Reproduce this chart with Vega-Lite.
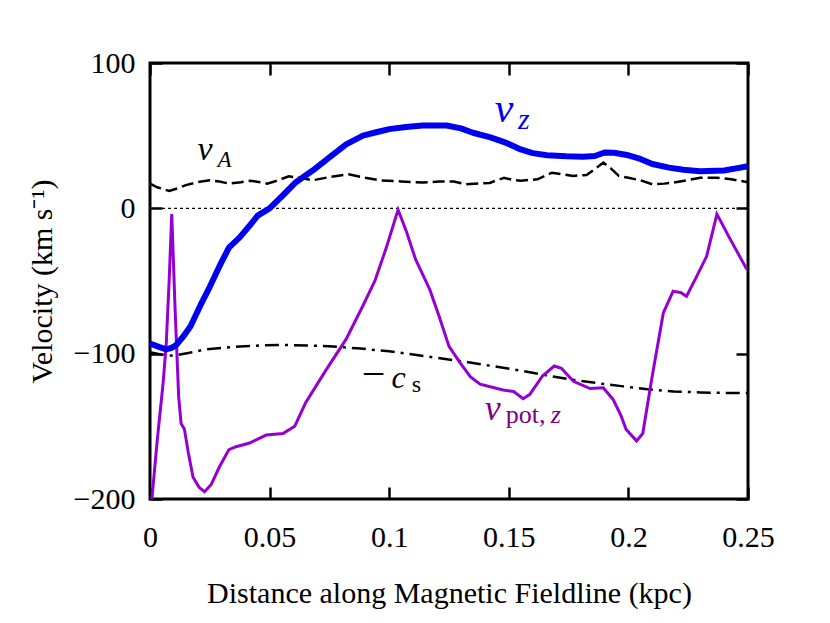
{
  "$schema": "https://vega.github.io/schema/vega-lite/v6.json",
  "width": 598,
  "height": 436,
  "autosize": {"type": "none"},
  "padding": {"left": 150, "top": 63, "right": 82, "bottom": 124},
  "background": "white",
  "config": {
    "view": {"stroke": "black", "strokeWidth": 3},
    "axis": {
      "labelFont": "Liberation Serif",
      "labelFontSize": 30,
      "titleFont": "Liberation Serif",
      "titleFontSize": 30,
      "titleFontWeight": "normal",
      "labelColor": "black",
      "titleColor": "black",
      "tickColor": "black",
      "tickWidth": 2.5,
      "tickSize": -12,
      "domain": false,
      "grid": false,
      "labelFlush": false
    }
  },
  "datasets": {
    "vz": [
      {"x": 0, "y": -93}, {"x": 0.004, "y": -95.5}, {"x": 0.0068, "y": -97}, {"x": 0.009, "y": -96},
      {"x": 0.011, "y": -94}, {"x": 0.014, "y": -88}, {"x": 0.017, "y": -81}, {"x": 0.021, "y": -67},
      {"x": 0.025, "y": -54}, {"x": 0.029, "y": -40}, {"x": 0.033, "y": -27}, {"x": 0.0375, "y": -20},
      {"x": 0.0416, "y": -12}, {"x": 0.045, "y": -5}, {"x": 0.05, "y": 0}, {"x": 0.0556, "y": 9},
      {"x": 0.061, "y": 18}, {"x": 0.068, "y": 26}, {"x": 0.075, "y": 35}, {"x": 0.082, "y": 44},
      {"x": 0.089, "y": 50}, {"x": 0.095, "y": 52.5}, {"x": 0.1, "y": 54.5}, {"x": 0.107, "y": 56},
      {"x": 0.114, "y": 57}, {"x": 0.124, "y": 57}, {"x": 0.13, "y": 55}, {"x": 0.135, "y": 52},
      {"x": 0.142, "y": 49}, {"x": 0.149, "y": 45}, {"x": 0.155, "y": 40.5}, {"x": 0.16, "y": 38},
      {"x": 0.166, "y": 36.5}, {"x": 0.174, "y": 35.8}, {"x": 0.181, "y": 35.5}, {"x": 0.186, "y": 36},
      {"x": 0.19, "y": 38.4}, {"x": 0.194, "y": 38.2}, {"x": 0.2, "y": 36.5}, {"x": 0.205, "y": 34},
      {"x": 0.21, "y": 30.5}, {"x": 0.217, "y": 28}, {"x": 0.223, "y": 26.5}, {"x": 0.23, "y": 25.5},
      {"x": 0.24, "y": 26}, {"x": 0.245, "y": 27.5}, {"x": 0.25, "y": 29}
    ],
    "va": [
      {"x": 0, "y": 17}, {"x": 0.003, "y": 14.5}, {"x": 0.008, "y": 12}, {"x": 0.012, "y": 14},
      {"x": 0.015, "y": 16}, {"x": 0.02, "y": 18}, {"x": 0.025, "y": 19.3}, {"x": 0.029, "y": 18.5},
      {"x": 0.033, "y": 17}, {"x": 0.038, "y": 18}, {"x": 0.042, "y": 19}, {"x": 0.046, "y": 18},
      {"x": 0.049, "y": 17}, {"x": 0.053, "y": 19}, {"x": 0.058, "y": 22}, {"x": 0.063, "y": 21},
      {"x": 0.068, "y": 19.3}, {"x": 0.075, "y": 21.5}, {"x": 0.083, "y": 23.4}, {"x": 0.09, "y": 21},
      {"x": 0.096, "y": 19.3}, {"x": 0.105, "y": 18.5}, {"x": 0.114, "y": 17.7}, {"x": 0.121, "y": 18.5},
      {"x": 0.127, "y": 18.5}, {"x": 0.132, "y": 16.5}, {"x": 0.142, "y": 17.5}, {"x": 0.148, "y": 21},
      {"x": 0.152, "y": 19.5}, {"x": 0.155, "y": 19}, {"x": 0.162, "y": 20}, {"x": 0.168, "y": 24.5},
      {"x": 0.172, "y": 23.5}, {"x": 0.177, "y": 22.3}, {"x": 0.1825, "y": 23}, {"x": 0.186, "y": 27},
      {"x": 0.1895, "y": 31.5}, {"x": 0.193, "y": 27}, {"x": 0.196, "y": 22.3}, {"x": 0.2, "y": 21},
      {"x": 0.205, "y": 19.3}, {"x": 0.21, "y": 16.5}, {"x": 0.215, "y": 17}, {"x": 0.219, "y": 17.7},
      {"x": 0.225, "y": 19.5}, {"x": 0.23, "y": 21}, {"x": 0.237, "y": 21}, {"x": 0.243, "y": 20},
      {"x": 0.25, "y": 18}
    ],
    "cs": [
      {"x": 0, "y": -99}, {"x": 0.0045, "y": -100.5}, {"x": 0.0095, "y": -101.4}, {"x": 0.016, "y": -99.5},
      {"x": 0.0235, "y": -97}, {"x": 0.03, "y": -96}, {"x": 0.0375, "y": -95}, {"x": 0.047, "y": -94.3},
      {"x": 0.0555, "y": -94}, {"x": 0.066, "y": -94.3}, {"x": 0.0765, "y": -95}, {"x": 0.088, "y": -96.5},
      {"x": 0.1, "y": -98.4}, {"x": 0.11, "y": -100.5}, {"x": 0.118, "y": -102.5}, {"x": 0.127, "y": -104.5},
      {"x": 0.135, "y": -106.4}, {"x": 0.145, "y": -109}, {"x": 0.156, "y": -112}, {"x": 0.166, "y": -115},
      {"x": 0.177, "y": -118}, {"x": 0.188, "y": -120.5}, {"x": 0.198, "y": -122.5}, {"x": 0.208, "y": -124.5},
      {"x": 0.219, "y": -126}, {"x": 0.23, "y": -126.7}, {"x": 0.24, "y": -127}, {"x": 0.25, "y": -127}
    ],
    "vpot": [
      {"x": 0.0008, "y": -200}, {"x": 0.003, "y": -160}, {"x": 0.0055, "y": -120}, {"x": 0.0068, "y": -93},
      {"x": 0.008, "y": -50}, {"x": 0.0091, "y": -4}, {"x": 0.0105, "y": -70}, {"x": 0.012, "y": -130},
      {"x": 0.013, "y": -148}, {"x": 0.0144, "y": -152}, {"x": 0.016, "y": -168}, {"x": 0.018, "y": -185},
      {"x": 0.0205, "y": -192}, {"x": 0.0228, "y": -195}, {"x": 0.0256, "y": -190}, {"x": 0.029, "y": -178},
      {"x": 0.033, "y": -166}, {"x": 0.036, "y": -164}, {"x": 0.0416, "y": -161.5}, {"x": 0.0486, "y": -156},
      {"x": 0.0556, "y": -155}, {"x": 0.0605, "y": -150}, {"x": 0.065, "y": -134}, {"x": 0.0737, "y": -111},
      {"x": 0.082, "y": -90}, {"x": 0.089, "y": -67}, {"x": 0.094, "y": -50}, {"x": 0.0988, "y": -27},
      {"x": 0.1037, "y": -1}, {"x": 0.107, "y": -15}, {"x": 0.111, "y": -35}, {"x": 0.117, "y": -56},
      {"x": 0.121, "y": -75}, {"x": 0.125, "y": -95}, {"x": 0.1295, "y": -106}, {"x": 0.134, "y": -116},
      {"x": 0.138, "y": -121}, {"x": 0.1476, "y": -125}, {"x": 0.152, "y": -126}, {"x": 0.156, "y": -131},
      {"x": 0.1588, "y": -128}, {"x": 0.164, "y": -115.5}, {"x": 0.169, "y": -108.5}, {"x": 0.172, "y": -110},
      {"x": 0.177, "y": -119}, {"x": 0.184, "y": -124}, {"x": 0.1895, "y": -123.5}, {"x": 0.1936, "y": -131.5},
      {"x": 0.197, "y": -143}, {"x": 0.199, "y": -152}, {"x": 0.2034, "y": -160}, {"x": 0.206, "y": -155},
      {"x": 0.21, "y": -115}, {"x": 0.2146, "y": -72}, {"x": 0.2187, "y": -57}, {"x": 0.222, "y": -58},
      {"x": 0.2243, "y": -60.5}, {"x": 0.2285, "y": -47}, {"x": 0.2327, "y": -33}, {"x": 0.237, "y": -4},
      {"x": 0.2425, "y": -21}, {"x": 0.2495, "y": -42}
    ],
    "zero": [{"x": 0, "y": 0}, {"x": 0.25, "y": 0}]
  },
  "encoding": {
    "x": {"field": "x", "type": "quantitative", "scale": {"domain": [0, 0.25], "nice": false, "zero": false}, "axis": null},
    "y": {"field": "y", "type": "quantitative", "scale": {"domain": [-200, 100], "nice": false, "zero": false}, "axis": null}
  },
  "layer": [
    {
      "data": {"name": "zero"},
      "mark": {"type": "line", "color": "black", "strokeWidth": 1.3, "strokeDash": [3, 3]},
      "encoding": {
        "x": {"field": "x", "type": "quantitative", "scale": {"domain": [0, 0.25], "nice": false, "zero": false},
          "axis": {"orient": "bottom", "values": [0, 0.05, 0.1, 0.15, 0.2, 0.25], "format": "~g", "labelPadding": 35, "title": "Distance along Magnetic Fieldline (kpc)", "titlePadding": 26}},
        "y": {"field": "y", "type": "quantitative", "scale": {"domain": [-200, 100], "nice": false, "zero": false},
          "axis": {"orient": "left", "values": [-200, -100, 0, 100], "format": "d", "labelPadding": 27, "title": "Velocity (km s⁻¹)", "titlePadding": 16}}
      }
    },
    {
      "data": {"name": "va"},
      "mark": {"type": "line", "color": "black", "strokeWidth": 2.5, "strokeDash": [12, 5]},
      "encoding": {
        "x": {"field": "x", "type": "quantitative", "scale": {"domain": [0, 0.25], "nice": false, "zero": false},
          "axis": {"orient": "top", "values": [0, 0.05, 0.1, 0.15, 0.2, 0.25], "labels": false, "title": null}},
        "y": {"field": "y", "type": "quantitative", "scale": {"domain": [-200, 100], "nice": false, "zero": false},
          "axis": {"orient": "right", "values": [-200, -100, 0, 100], "labels": false, "title": null}}
      }
    },
    {
      "data": {"name": "cs"},
      "mark": {"type": "line", "color": "black", "strokeWidth": 2.5, "strokeDash": [14, 6, 3, 6]}
    },
    {
      "data": {"name": "vpot"},
      "mark": {"type": "line", "color": "#9400d3", "strokeWidth": 3, "clip": true}
    },
    {
      "data": {"name": "vz"},
      "mark": {"type": "line", "color": "#0000f0", "strokeWidth": 6, "strokeJoin": "round"}
    },
    {
      "data": {"values": [{"x": 0.1441, "y": 59.3, "t": "v"}]},
      "mark": {"type": "text", "font": "Liberation Serif", "fontStyle": "italic", "fontSize": 42, "align": "left", "baseline": "alphabetic", "color": "#0000f0"},
      "encoding": {"text": {"field": "t"}}
    },
    {
      "data": {"values": [{"x": 0.1538, "y": 54.5, "t": "z"}]},
      "mark": {"type": "text", "font": "Liberation Serif", "fontStyle": "italic", "fontSize": 30, "align": "left", "baseline": "alphabetic", "color": "#0000f0"},
      "encoding": {"text": {"field": "t"}}
    },
    {
      "data": {"values": [{"x": 0.0199, "y": 33.1, "t": "v"}]},
      "mark": {"type": "text", "font": "Liberation Serif", "fontStyle": "italic", "fontSize": 34, "align": "left", "baseline": "alphabetic", "color": "black"},
      "encoding": {"text": {"field": "t"}}
    },
    {
      "data": {"values": [{"x": 0.0282, "y": 28.3, "t": "A"}]},
      "mark": {"type": "text", "font": "Liberation Serif", "fontStyle": "italic", "fontSize": 23, "align": "left", "baseline": "alphabetic", "color": "black"},
      "encoding": {"text": {"field": "t"}}
    },
    {
      "data": {"values": [{"x": 0.0885, "y": -123.4, "t": "−"}]},
      "mark": {"type": "text", "font": "Liberation Serif", "fontSize": 42, "align": "left", "baseline": "alphabetic", "color": "black"},
      "encoding": {"text": {"field": "t"}}
    },
    {
      "data": {"values": [{"x": 0.101, "y": -123.4, "t": "c"}]},
      "mark": {"type": "text", "font": "Liberation Serif", "fontStyle": "italic", "fontSize": 32, "align": "left", "baseline": "alphabetic", "color": "black"},
      "encoding": {"text": {"field": "t"}}
    },
    {
      "data": {"values": [{"x": 0.1094, "y": -126.2, "t": "s"}]},
      "mark": {"type": "text", "font": "Liberation Serif", "fontSize": 24, "align": "left", "baseline": "alphabetic", "color": "black"},
      "encoding": {"text": {"field": "t"}}
    },
    {
      "data": {"values": [{"x": 0.1399, "y": -145.5, "t": "v"}]},
      "mark": {"type": "text", "font": "Liberation Serif", "fontStyle": "italic", "fontSize": 36, "align": "left", "baseline": "alphabetic", "color": "#800080"},
      "encoding": {"text": {"field": "t"}}
    },
    {
      "data": {"values": [{"x": 0.1487, "y": -147.6, "t": "pot,"}]},
      "mark": {"type": "text", "font": "Liberation Serif", "fontSize": 26, "align": "left", "baseline": "alphabetic", "color": "#800080"},
      "encoding": {"text": {"field": "t"}}
    },
    {
      "data": {"values": [{"x": 0.1675, "y": -147.6, "t": "z"}]},
      "mark": {"type": "text", "font": "Liberation Serif", "fontStyle": "italic", "fontSize": 26, "align": "left", "baseline": "alphabetic", "color": "#800080"},
      "encoding": {"text": {"field": "t"}}
    }
  ],
  "resolve": {"axis": {"x": "independent", "y": "independent"}}
}
